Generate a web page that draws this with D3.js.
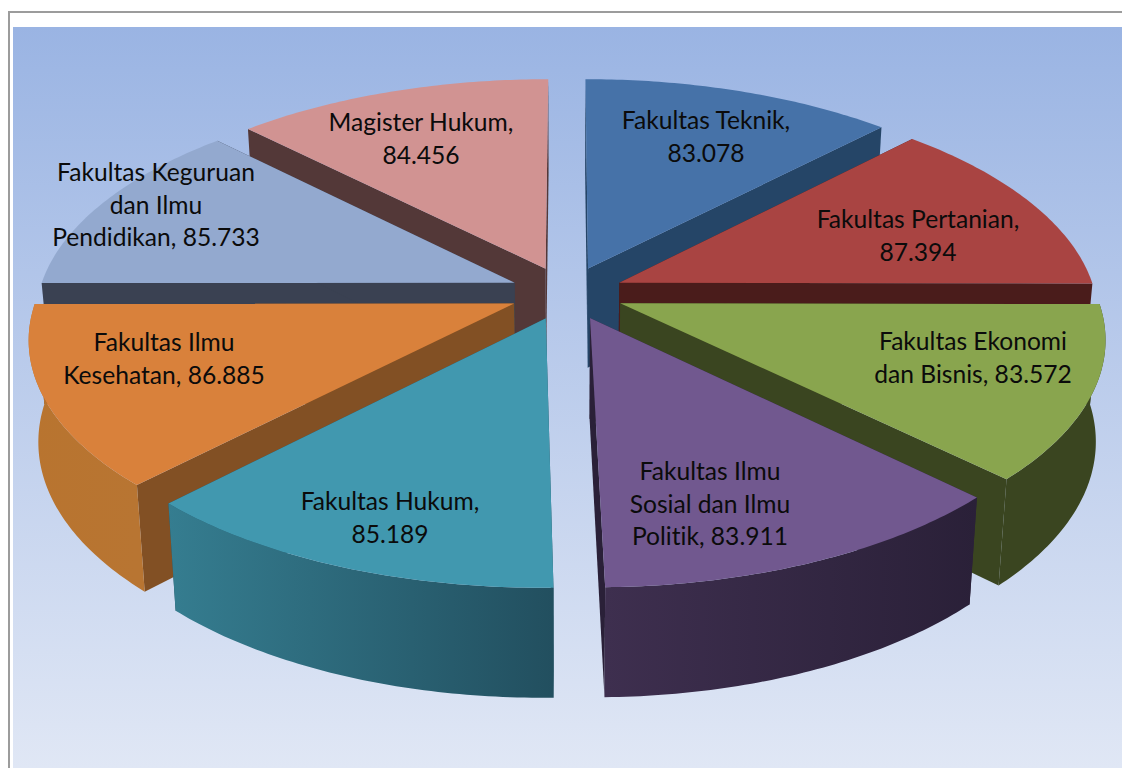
<!DOCTYPE html>
<html lang="id">
<head>
<meta charset="UTF-8">
<title>Pie 3D fakultas</title>
<script src="https://cdn.jsdelivr.net/npm/d3@7"></script>
<style>
  html, body { margin: 0; background: #fff; overflow: hidden; }
  svg { display: block; }
  text { font-family: Lato, "Open Sans", sans-serif; fill: #0b0b0b; font-variant-ligatures: none; }
</style>
</head>
<body>
<svg width="1122" height="768"></svg>
<script>
// data, clockwise from 12 o'clock
var faculties = ["Fakultas Teknik", "Fakultas Pertanian", "Fakultas Ekonomi dan Bisnis",
  "Fakultas Ilmu Sosial dan Ilmu Politik", "Fakultas Hukum", "Fakultas Ilmu Kesehatan",
  "Fakultas Keguruan dan Ilmu Pendidikan", "Magister Hukum"];
var scores = [83.078, 87.394, 83.572, 83.911, 85.189, 86.885, 85.733, 84.456];
var labelLines = [
  ["Fakultas Teknik,"],
  ["Fakultas Pertanian,"],
  ["Fakultas Ekonomi", "dan Bisnis, "],
  ["Fakultas Ilmu", "Sosial dan Ilmu", "Politik, "],
  ["Fakultas Hukum,"],
  ["Fakultas Ilmu", "Kesehatan, "],
  ["Fakultas Keguruan", "dan Ilmu", "Pendidikan, "],
  ["Magister Hukum,"]
];

// colours per slice
var topColors = ["#4672a8", "#a94442", "#89a54e", "#71588f", "#4198af", "#d9813b", "#93a9cf", "#d19392"];
var cutColors = ["#254567", "#4a1c1b", "#3a4520", "#2a2038", "#224f5f", "#825024", "#3a4152", "#533838"];
var rimFrom = ["#254567", "#4a1c1b", "#3a4520", "#3e2f4f", "#357d90", "#b8742f", "#3a4152", "#533838"];
var rimTo = ["#254567", "#4a1c1b", "#3a4520", "#2a2038", "#224f5f", "#b87532", "#3a4152", "#533838"];

// label anchors: centre x, first baseline y
var labelX = [706, 918, 973, 710, 390, 164, 156, 421];
var labelY = [129, 228, 350, 480, 510, 351, 181, 131];
var lineStep = 32.5;

var svg = d3.select("svg");
var defs = svg.append("defs");

// page frame and plot background
svg.append("path").attr("d", "M9,768V12H1122").attr("fill", "none")
  .attr("stroke", "#9c9c9c").attr("stroke-width", 2);
var bg = defs.append("linearGradient").attr("id", "bg")
  .attr("x1", 0).attr("x2", 0).attr("y1", 0).attr("y2", 1);
bg.append("stop").attr("offset", 0).attr("stop-color", "#9ab4e3");
bg.append("stop").attr("offset", 1).attr("stop-color", "#e0e7f5");
svg.append("rect").attr("x", 13).attr("y", 27).attr("width", 1109).attr("height", 741)
  .attr("fill", "url(#bg)");

// projection of the pie plane (unit radius, y towards the viewer)
var cx = 567, cy = 293, rx = 476, ry = 223, persp = 0.143, explode = 0.12;
var squeeze = 0.982;

function scaleAt(py) { return 1 / (1 - persp * py); }
function topPoint(px, py) {
  var s = scaleAt(py);
  return [cx + px * rx * s, cy + py * ry * s];
}
function bottomPoint(px, py) {
  var p = topPoint(px, py);
  return [cx + (p[0] - cx) * squeeze, p[1] + 47 + 53 * scaleAt(py)];
}

var arcs = d3.pie().sort(null).value(function(d) { return d; })(scores);
var line = d3.line();

arcs.forEach(function(a, i) {
  a.index = i;
  a.mid = (a.startAngle + a.endAngle) / 2;
  a.ox = explode * Math.sin(a.mid);
  a.oy = -explode * Math.cos(a.mid);
  a.rimAngles = d3.range(0, 61).map(function(k) {
    return a.startAngle + (a.endAngle - a.startAngle) * k / 60;
  });
  a.rim = a.rimAngles.map(function(t) { return [a.ox + Math.sin(t), a.oy - Math.cos(t)]; });
});

var order = arcs.slice().sort(function(a, b) { return d3.ascending(a.oy, b.oy); });

order.forEach(function(a) {
  var i = a.index;
  var g = svg.append("g").attr("class", "slice");
  var apex = [a.ox, a.oy];
  var first = a.rim[0], last = a.rim[a.rim.length - 1];

  // cut faces
  [first, last].forEach(function(r) {
    g.append("path")
      .attr("d", line([topPoint(apex[0], apex[1]), topPoint(r[0], r[1]),
        bottomPoint(r[0], r[1]), bottomPoint(apex[0], apex[1])]) + "Z")
      .attr("fill", cutColors[i]);
  });

  // outer face, only front slices show it
  if (a.oy > 0) {
    var tops = a.rim.map(function(r) { return topPoint(r[0], r[1]); });
    var bots = a.rim.map(function(r) { return bottomPoint(r[0], r[1]); }).reverse();
    var xs = d3.extent(tops, function(p) { return p[0]; });
    var grad = defs.append("linearGradient").attr("id", "rim" + i)
      .attr("gradientUnits", "userSpaceOnUse")
      .attr("x1", xs[0]).attr("x2", xs[1]).attr("y1", 0).attr("y2", 0);
    grad.append("stop").attr("offset", 0).attr("stop-color", rimFrom[i]);
    grad.append("stop").attr("offset", 1).attr("stop-color", rimTo[i]);
    g.append("path").attr("d", line(tops.concat(bots)) + "Z").attr("fill", "url(#rim" + i + ")");
  }

  // top face
  var outline = [apex].concat(a.rim).map(function(r) { return topPoint(r[0], r[1]); });
  g.append("path").attr("d", line(outline) + "Z").attr("fill", topColors[i]);
});

// labels
var fmt = d3.format(".3f");
var labels = svg.append("g").attr("font-size", 24.6).attr("text-anchor", "middle");
scores.forEach(function(v, i) {
  var lines = labelLines[i].slice();
  if (lines.length === 1) lines.push(fmt(v));
  else lines[lines.length - 1] += fmt(v);
  var t = labels.append("text").attr("data-name", faculties[i]);
  lines.forEach(function(l, k) {
    t.append("tspan").attr("x", labelX[i]).attr("y", labelY[i] + k * lineStep).text(l);
  });
});
</script>
</body>
</html>
